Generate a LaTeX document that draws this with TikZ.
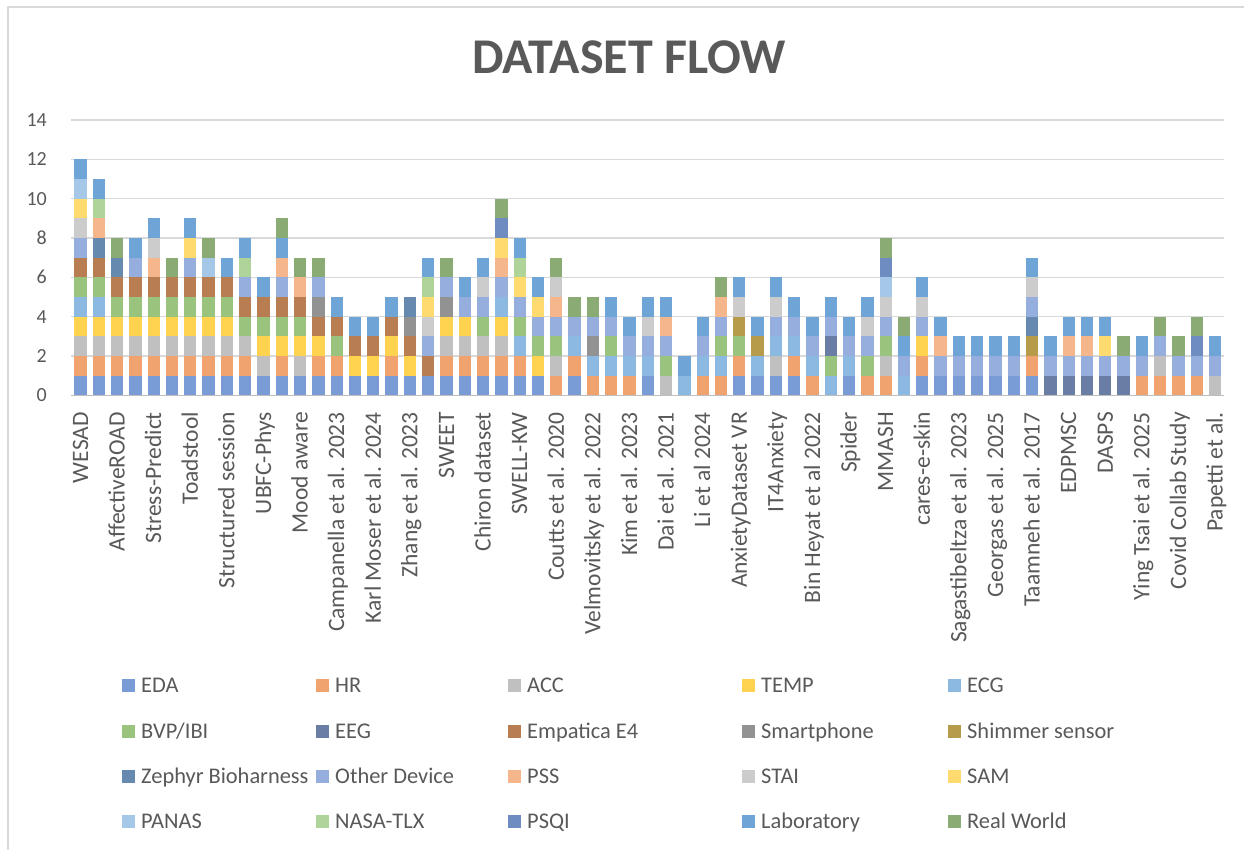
\documentclass[tikz,border=0pt]{standalone}
\usepackage{fontspec}
\setmainfont{Carlito}
\definecolor{txt}{HTML}{595959}
\definecolor{gridc}{HTML}{D9D9D9}
\definecolor{axisc}{HTML}{BFBFBF}
\definecolor{eda}{HTML}{7A9CD6}
\definecolor{hr}{HTML}{F0A36E}
\definecolor{acc}{HTML}{C0C0C0}
\definecolor{temp}{HTML}{FFD24F}
\definecolor{ecg}{HTML}{8CB9E2}
\definecolor{bvp}{HTML}{9AC47D}
\definecolor{eeg}{HTML}{6A7DA5}
\definecolor{emp}{HTML}{B97D52}
\definecolor{phone}{HTML}{929292}
\definecolor{shim}{HTML}{B69B4A}
\definecolor{zeph}{HTML}{6689B0}
\definecolor{oth}{HTML}{95AEDE}
\definecolor{pss}{HTML}{F5B68C}
\definecolor{stai}{HTML}{CCCCCC}
\definecolor{sam}{HTML}{FFDA6E}
\definecolor{panas}{HTML}{A5C8E8}
\definecolor{tlx}{HTML}{AED49A}
\definecolor{psqi}{HTML}{6F8CC0}
\definecolor{lab}{HTML}{6FA5D6}
\definecolor{rw}{HTML}{8AAB73}
\begin{document}
\begin{tikzpicture}[x=1pt,y=1pt]
\useasboundingbox (0,0) rectangle (1244,850);
\fill[white] (0,0) rectangle (1244,850);
\draw[gridc,line width=1.2] (8,0)--(8,843)--(1244,843);

\node[txt,anchor=base,font=\fontsize{50}{54}\selectfont\bfseries] (title) at (629,776) {DATASET FLOW};

% grid and value axis
\foreach \v in {2,4,...,14}
{
    \draw[gridc,line width=1.3] (71.35,{454.5+19.67*\v})--(1224.2,{454.5+19.67*\v});
}
\foreach \v in {0,2,...,14}
{
    \node[txt,anchor=base east,inner sep=0,font=\fontsize{20}{24}\selectfont] (tick\v) at (47,{448+19.67*\v}) {\v};
}

% stacked bars
\foreach \stk [count=\i] in {
{eda,hr,acc,temp,ecg,bvp,emp,oth,stai,sam,panas,lab},
{eda,hr,acc,temp,ecg,bvp,emp,zeph,pss,tlx,lab},
{eda,hr,acc,temp,bvp,emp,zeph,rw},
{eda,hr,acc,temp,bvp,emp,oth,lab},
{eda,hr,acc,temp,bvp,emp,pss,stai,lab},
{eda,hr,acc,temp,bvp,emp,rw},
{eda,hr,acc,temp,bvp,emp,oth,sam,lab},
{eda,hr,acc,temp,bvp,emp,panas,rw},
{eda,hr,acc,temp,bvp,emp,lab},
{eda,hr,acc,bvp,emp,oth,tlx,lab},
{eda,acc,temp,bvp,emp,lab},
{eda,hr,temp,bvp,emp,oth,pss,lab,rw},
{eda,acc,temp,bvp,emp,pss,rw},
{eda,hr,temp,emp,phone,oth,rw},
{eda,hr,bvp,emp,lab},
{eda,temp,emp,lab},
{eda,temp,emp,lab},
{eda,hr,temp,emp,lab},
{eda,temp,emp,phone,zeph},
{eda,emp,oth,stai,sam,tlx,lab},
{eda,hr,acc,temp,phone,oth,rw},
{eda,hr,acc,temp,oth,lab},
{eda,hr,acc,bvp,oth,stai,lab},
{eda,hr,acc,temp,ecg,oth,pss,sam,psqi,rw},
{eda,hr,ecg,bvp,oth,sam,tlx,lab},
{eda,temp,bvp,oth,sam,lab},
{hr,acc,bvp,oth,pss,stai,rw},
{eda,hr,ecg,oth,rw},
{hr,ecg,phone,oth,rw},
{hr,ecg,bvp,oth,lab},
{hr,ecg,oth,lab},
{eda,ecg,oth,stai,lab},
{acc,bvp,oth,pss,lab},
{ecg,lab},
{hr,ecg,oth,lab},
{hr,ecg,bvp,oth,pss,rw},
{eda,hr,bvp,shim,stai,lab},
{eda,ecg,shim,lab},
{eda,acc,ecg,oth,stai,lab},
{eda,hr,ecg,oth,lab},
{hr,ecg,oth,lab},
{ecg,bvp,eeg,oth,lab},
{eda,ecg,oth,lab},
{hr,bvp,oth,stai,lab},
{hr,acc,bvp,oth,stai,panas,psqi,rw},
{ecg,oth,lab,rw},
{eda,hr,temp,oth,stai,lab},
{eda,oth,pss,lab},
{eda,oth,lab},
{eda,oth,lab},
{eda,oth,lab},
{eda,oth,lab},
{eda,hr,shim,zeph,oth,stai,lab},
{eeg,oth,lab},
{eeg,oth,pss,lab},
{eeg,oth,pss,lab},
{eeg,oth,sam,lab},
{eeg,oth,rw},
{hr,oth,lab},
{hr,acc,oth,rw},
{hr,oth,rw},
{hr,oth,psqi,rw},
{acc,oth,lab}}
{
    \foreach \cl [count=\j] in \stk
    {
        \fill[\cl] ({62.2+18.3*\i-6.15},{454.5+19.67*(\j-1)}) rectangle ++(12.3,19.67);
    }
}
\draw[axisc,line width=1.5] (71.35,454.5)--(1224.2,454.5);

% category labels (every second bar)
\foreach \name [count=\k] in {WESAD,AffectiveROAD,Stress-Predict,Toadstool,Structured session,UBFC-Phys,Mood aware,Campanella et al. 2023,Karl Moser et al. 2024,Zhang et al. 2023,SWEET,Chiron dataset,SWELL-KW,Coutts et al. 2020,Velmovitsky et al. 2022,Kim et al. 2023,Dai et al. 2021,Li et al 2024,AnxietyDataset VR,IT4Anxiety,Bin Heyat et al 2022,Spider,MMASH,cares-e-skin,Sagastibeltza et al. 2023,Georgas et al. 2025,Taamneh et al. 2017,EDPMSC,DASPS,Ying Tsai et al. 2025,Covid Collab Study,Papetti et al.}
{
    \node[txt,rotate=90,anchor=base east,inner sep=0,font=\fontsize{23.5}{27}\selectfont] (cat\k) at ({62.2+18.3*(2*\k-1)+7.5},438) {\name};
}

% legend
\foreach \name/\cl [count=\k] in {EDA/eda,HR/hr,ACC/acc,TEMP/temp,ECG/ecg,{BVP/IBI}/bvp,EEG/eeg,Empatica E4/emp,Smartphone/phone,Shimmer sensor/shim,Zephyr Bioharness/zeph,Other Device/oth,PSS/pss,STAI/stai,SAM/sam,PANAS/panas,NASA-TLX/tlx,PSQI/psqi,Laboratory/lab,Real World/rw}
{
    \pgfmathsetmacro{\lx}{{122,316,508,742,948}[mod(\k-1,5)]}
    \pgfmathsetmacro{\ly}{164-45.2*int((\k-1)/5)}
    \fill[\cl] (\lx,{\ly-6.5}) rectangle ++(13,13);
    \node[txt,anchor=base west,inner sep=0,font=\fontsize{22.4}{26}\selectfont] (key\k) at ({\lx+19},{\ly-7}) {\name};
}
\end{tikzpicture}
\end{document}
